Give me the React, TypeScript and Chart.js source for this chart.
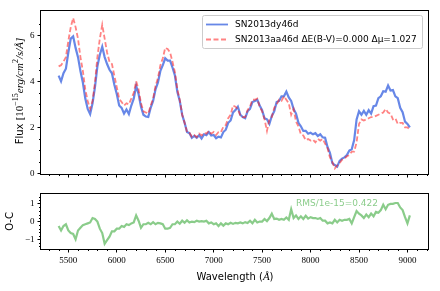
import React, { useEffect, useRef } from "react";
import { Chart, registerables } from "chart.js";
Chart.register(...registerables);

// ---- data ----
const wavelength = [
  5400, 5425, 5450, 5475, 5500, 5525, 5550, 5575,
  5600, 5625, 5650, 5675, 5700, 5725, 5750, 5775,
  5800, 5825, 5850, 5875, 5900, 5925, 5950, 5975,
  6000, 6025, 6050, 6075, 6100, 6125, 6150, 6175,
  6200, 6225, 6250, 6275, 6300, 6325, 6350, 6375,
  6400, 6425, 6450, 6475, 6500, 6525, 6550, 6575,
  6600, 6625, 6650, 6675, 6700, 6725, 6750, 6775,
  6800, 6825, 6850, 6875, 6900, 6925, 6950, 6975,
  7000, 7025, 7050, 7075, 7100, 7125, 7150, 7175,
  7200, 7225, 7250, 7275, 7300, 7325, 7350, 7375,
  7400, 7425, 7450, 7475, 7500, 7525, 7550, 7575,
  7600, 7625, 7650, 7675, 7700, 7725, 7750, 7775,
  7800, 7825, 7850, 7875, 7900, 7925, 7950, 7975,
  8000, 8025, 8050, 8075, 8100, 8125, 8150, 8175,
  8200, 8225, 8250, 8275, 8300, 8325, 8350, 8375,
  8400, 8425, 8450, 8475, 8500, 8525, 8550, 8575,
  8600, 8625, 8650, 8675, 8700, 8725, 8750, 8775,
  8800, 8825, 8850, 8875, 8900, 8925, 8950, 8975,
  9000, 9025,
];

const fluxDy = [
  4.25, 4.0, 4.35, 4.55, 5.25, 5.85, 5.95, 5.45,
  5.05, 4.45, 3.95, 3.25, 2.8, 2.58, 3.05, 3.75,
  4.65, 5.15, 5.5, 5.05, 4.75, 4.5, 4.35, 3.85,
  3.45, 2.95, 2.85, 2.6, 2.78, 2.58, 2.95, 3.25,
  3.8, 3.45, 2.9, 2.55, 2.47, 2.45, 2.85, 3.15,
  3.65, 3.95, 4.45, 4.7, 5.0, 4.9, 4.9, 4.6,
  4.25, 3.55, 3.15, 2.55, 2.2, 1.8, 1.75, 1.55,
  1.63, 1.55, 1.66, 1.52, 1.7, 1.66, 1.8, 1.65,
  1.67, 1.53, 1.6, 1.57, 1.8, 1.9, 2.2, 2.3,
  2.65, 2.75, 2.9, 2.55, 2.45, 2.4, 2.7, 2.8,
  3.1, 3.15, 3.2, 2.95, 2.75, 2.4, 2.35, 2.15,
  2.5, 2.7, 3.1, 3.15, 3.35, 3.35, 3.55, 3.3,
  3.15, 2.8, 2.6, 2.2, 2.05, 1.85, 1.85, 1.73,
  1.77, 1.7, 1.75, 1.63, 1.7, 1.57, 1.55, 1.15,
  0.9, 0.45, 0.37, 0.3, 0.55, 0.65, 0.7, 0.8,
  1.0, 1.05, 1.45, 2.35, 2.7, 2.55, 2.72, 2.55,
  2.75, 2.6, 2.92, 2.95, 3.27, 3.35, 3.57, 3.55,
  3.82, 3.6, 3.62, 3.35, 3.27, 2.85, 2.66, 2.25,
  2.15, 2.0,
];

const fluxAa = [
  4.65, 4.7, 4.85, 5.05, 5.75, 6.35, 6.75, 6.35,
  5.85, 5.05, 4.45, 3.65, 3.15, 2.8, 3.15, 3.95,
  5.05, 5.85, 6.45, 5.85, 5.25, 4.85, 4.75, 4.25,
  3.75, 3.25, 3.1, 2.95, 3.05, 3.0, 3.25, 3.5,
  4.0, 3.65, 3.05, 2.7, 2.65, 2.6, 2.95, 3.25,
  3.8, 4.15, 4.7, 5.0, 5.45, 5.4, 5.25, 4.85,
  4.4, 3.65, 3.2, 2.55, 2.2, 1.8, 1.77, 1.6,
  1.67, 1.58, 1.73, 1.65, 1.77, 1.73, 1.85, 1.73,
  1.8, 1.67, 1.8, 1.8, 2.03, 2.1, 2.4, 2.55,
  2.95, 2.9, 2.8, 2.5, 2.45, 2.45, 2.75, 2.9,
  3.2, 3.2, 3.25, 2.9, 2.7, 2.35, 1.85, 2.35,
  2.45, 2.85, 3.0, 3.2, 3.15, 3.35, 3.2, 3.05,
  2.55, 2.8, 2.25, 2.05, 1.7, 1.65, 1.45, 1.5,
  1.43, 1.47, 1.35, 1.5, 1.43, 1.5, 1.3, 1.1,
  0.7, 0.5, 0.22, 0.35, 0.45, 0.6, 0.65, 0.75,
  0.8, 0.95, 0.95, 1.35, 2.15, 2.35, 2.3, 2.35,
  2.4, 2.45, 2.45, 2.5, 2.55, 2.6, 2.65, 2.8,
  2.65, 2.6, 2.35, 2.4, 2.15, 2.2, 2.2, 2.0,
  2.0, 1.9,
];

const residual = [
  -0.25, -0.5, -0.25, -0.15, -0.5, -0.65, -0.7, -1.0,
  -0.5, -0.35, -0.2, -0.15, -0.1, -0.05, 0.2, 0.15,
  0.0, -0.4, -0.65, -1.25, -1.05, -0.85, -0.55, -0.55,
  -0.4, -0.4, -0.25, -0.3, -0.15, -0.2, -0.1, -0.05,
  0.35, 0.05, -0.35, -0.15, -0.15, -0.07, -0.15, -0.03,
  -0.15, -0.07, -0.1, -0.15, -0.4, -0.4, -0.35, -0.15,
  -0.15, 0.0, -0.12, 0.05, -0.07, 0.07, -0.05, 0.0,
  -0.03, 0.05, 0.0, 0.03, 0.0, 0.05, -0.1, -0.05,
  -0.15, -0.1, -0.25, -0.1, -0.23, -0.1, -0.15, -0.07,
  -0.13, -0.07, -0.1, -0.05, -0.1, -0.03, -0.08, 0.05,
  -0.1, 0.1, -0.05, 0.0, 0.0, 0.15, 0.03, 0.2,
  0.45, 0.15, 0.17, 0.1, 0.15, 0.1, 0.23, 0.1,
  0.7, 0.2, 0.35, 0.15, 0.3, 0.15, 0.33, 0.17,
  0.25, 0.2, 0.2, 0.15, 0.2, 0.05, 0.05, -0.1,
  -0.05, -0.1, 0.1, -0.05, 0.1, 0.05, 0.1, 0.1,
  0.15, -0.1, 0.25, 0.6, 0.45, 0.35, 0.2, 0.4,
  0.25, 0.45, 0.3, 0.55, 0.5, 0.65, 0.95, 0.7,
  0.95, 1.0, 1.0, 1.05, 1.05, 0.8, 0.65, 0.25,
  -0.1, 0.35,
];

const xTicks = [5500, 6000, 6500, 7000, 7500, 8000, 8500, 9000];
const fluxTicks = [0, 2, 4, 6];
const ocTicks = [-1, 0, 1];
const legendLabels = ["SN2013dy46d", "SN2013aa46d \u0394E(B-V)=0.000 \u0394\u03bc=1.027"];
const rmsLabel = "RMS/1e-15=0.422";

// ---- styles ----
const BLUE = "rgba(65,105,225,0.8)";
const RED = "rgba(255,30,30,0.55)";
const GREEN = "rgba(60,170,60,0.6)";
const TICK_FONT = { family: "'Liberation Serif', serif", size: 9 };
const SANS = "'DejaVu Sans', sans-serif";
const SERIF = "'Liberation Serif', serif";

type Run = { t: string; f: string; dy?: number };
function drawRuns(ctx: CanvasRenderingContext2D, runs: Run[], cx: number, cy: number, rot = 0, color = "#000", align = "center") {
  ctx.save();
  ctx.translate(cx, cy);
  ctx.rotate(rot);
  let total = 0;
  const widths = runs.map((r) => {
    ctx.font = r.f;
    const w = ctx.measureText(r.t).width;
    total += w;
    return w;
  });
  let x = align === "center" ? -total / 2 : 0;
  ctx.fillStyle = color;
  ctx.textBaseline = "middle";
  ctx.textAlign = "left";
  runs.forEach((r, i) => {
    ctx.font = r.f;
    ctx.fillText(r.t, x, r.dy || 0);
    x += widths[i];
  });
  ctx.restore();
}

function drawFrameAndMinor(chart: any, xMinor: number[], yMinor: number[]) {
  const { ctx, chartArea: a } = chart;
  const sx = chart.scales.x;
  const sy = chart.scales.y;
  ctx.save();
  ctx.strokeStyle = "#000";
  ctx.lineWidth = 1;
  ctx.beginPath();
  xMinor.forEach((v) => {
    const p = Math.round(sx.getPixelForValue(v)) + 0.5;
    if (p < a.left || p > a.right) return;
    ctx.moveTo(p, a.bottom);
    ctx.lineTo(p, a.bottom + 2);
  });
  yMinor.forEach((v) => {
    const p = Math.round(sy.getPixelForValue(v)) + 0.5;
    if (p < a.top || p > a.bottom) return;
    ctx.moveTo(a.left, p);
    ctx.lineTo(a.left - 2, p);
  });
  ctx.stroke();
  ctx.strokeRect(Math.round(a.left) - 0.5, Math.round(a.top) - 0.5, Math.round(a.right - a.left) + 1, Math.round(a.bottom - a.top) + 1);
  ctx.restore();
}

const xMinorTicks: number[] = [];
for (let v = 5300; v <= 9200; v += 100) if (v % 500 !== 0) xMinorTicks.push(v);
const fluxMinor: number[] = [];
for (let v = 0.5; v < 7; v += 0.5) if (v % 2 !== 0) fluxMinor.push(v);
const ocMinor: number[] = [];
for (let i = -7; i <= 7; i++) if (i % 5 !== 0) ocMinor.push(i * 0.2);

const X_MIN = 5218;
const X_MAX = 9212;

function xScale(showLabels: boolean, height: number) {
  return {
    type: "linear",
    min: X_MIN,
    max: X_MAX,
    afterBuildTicks: (s: any) => {
      s.ticks = xTicks.map((v) => ({ value: v }));
    },
    afterFit: (s: any) => {
      s.height = height;
    },
    border: { display: false },
    grid: { display: true, drawOnChartArea: false, drawTicks: true, tickLength: 3.5, color: "#000", lineWidth: 1 },
    ticks: {
      display: showLabels,
      autoSkip: false,
      maxRotation: 0,
      padding: 3,
      color: "#000",
      font: TICK_FONT,
      callback: (v: any) => String(v),
    },
  };
}

function yScale(min: number, max: number, ticks: number[]) {
  return {
    type: "linear",
    min,
    max,
    afterBuildTicks: (s: any) => {
      s.ticks = ticks.map((v) => ({ value: v }));
    },
    afterFit: (s: any) => {
      s.width = 41;
    },
    border: { display: false },
    grid: { display: true, drawOnChartArea: false, drawTicks: true, tickLength: 3.5, color: "#000", lineWidth: 1 },
    ticks: {
      padding: 3,
      color: "#000",
      font: TICK_FONT,
      callback: (v: any) => (v < 0 ? "\u2212" + String(-v) : String(v)),
    },
  };
}

export default function App() {
  const topRef = useRef<HTMLCanvasElement>(null);
  const botRef = useRef<HTMLCanvasElement>(null);

  useEffect(() => {
    document.body.style.margin = "0";
    const dyPts = wavelength.map((w, i) => ({ x: w, y: fluxDy[i] }));
    const aaPts = wavelength.map((w, i) => ({ x: w, y: fluxAa[i] }));
    const ocPts = wavelength.map((w, i) => ({ x: w, y: residual[i] }));

    const topDecor = {
      id: "topDecor",
      afterDraw(chart: any) {
        const ctx = chart.ctx as CanvasRenderingContext2D;
        drawFrameAndMinor(chart, xMinorTicks, fluxMinor);
        // legend
        ctx.save();
        ctx.fillStyle = "rgba(255,255,255,0.8)";
        ctx.strokeStyle = "#cccccc";
        ctx.lineWidth = 1;
        ctx.beginPath();
        (ctx as any).roundRect(202.5, 15.5, 220, 33, 2);
        ctx.fill();
        ctx.stroke();
        ctx.lineWidth = 1.8;
        ctx.strokeStyle = BLUE;
        ctx.beginPath();
        ctx.moveTo(206, 24.5);
        ctx.lineTo(228, 24.5);
        ctx.stroke();
        ctx.strokeStyle = RED;
        ctx.setLineDash([5, 2.5]);
        ctx.beginPath();
        ctx.moveTo(206, 39.5);
        ctx.lineTo(228, 39.5);
        ctx.stroke();
        ctx.restore();
        drawRuns(ctx, [{ t: legendLabels[0], f: `9px ${SANS}` }], 235, 24.5, 0, "#000", "left");
        drawRuns(ctx, [{ t: legendLabels[1], f: `9px ${SANS}` }], 235, 39.5, 0, "#000", "left");
        // y label
        drawRuns(
          ctx,
          [
            { t: "Flux ", f: `10px ${SANS}` },
            { t: "[10", f: `11px ${SERIF}` },
            { t: "\u221215", f: `8px ${SERIF}`, dy: -4 },
            { t: "erg/cm", f: `italic 11px ${SERIF}` },
            { t: "2", f: `8px ${SERIF}`, dy: -4 },
            { t: "/s/\u00c5]", f: `italic 11px ${SERIF}` },
          ],
          20,
          91,
          -Math.PI / 2
        );
      },
    };

    const botDecor = {
      id: "botDecor",
      afterDraw(chart: any) {
        const ctx = chart.ctx as CanvasRenderingContext2D;
        drawFrameAndMinor(chart, xMinorTicks, ocMinor);
        drawRuns(ctx, [{ t: "O-C", f: `10px ${SANS}` }], 10, 36.5, -Math.PI / 2);
        drawRuns(
          ctx,
          [
            { t: "Wavelength (", f: `10px ${SANS}` },
            { t: "\u00c5", f: `italic 11px ${SERIF}` },
            { t: ")", f: `10px ${SANS}` },
          ],
          235,
          92
        );
        drawRuns(ctx, [{ t: rmsLabel, f: `9px ${SANS}` }], 296, 18.5, 0, GREEN, "left");
      },
    };

    const top = new Chart(topRef.current as HTMLCanvasElement, {
      type: "line",
      data: {
        datasets: [
          { label: legendLabels[0], data: dyPts, borderColor: BLUE, borderWidth: 2.2, pointRadius: 0, order: 2 },
          { label: legendLabels[1], data: aaPts, borderColor: RED, borderWidth: 1.8, borderDash: [5, 2.5], pointRadius: 0, order: 1 },
        ],
      },
      options: {
        animation: false,
        responsive: false,
        devicePixelRatio: 1,
        layout: { padding: { top: 11, right: 12, left: 0, bottom: 0 } },
        plugins: { legend: { display: false }, tooltip: { enabled: false } },
        elements: { line: { tension: 0 } },
        scales: { x: xScale(false, 11), y: yScale(-0.02, 7.05, fluxTicks) } as any,
      },
      plugins: [topDecor],
    } as any);

    const bot = new Chart(botRef.current as HTMLCanvasElement, {
      type: "line",
      data: {
        datasets: [{ label: "O-C", data: ocPts, borderColor: GREEN, borderWidth: 2.2, pointRadius: 0 }],
      },
      options: {
        animation: false,
        responsive: false,
        devicePixelRatio: 1,
        layout: { padding: { top: 9, right: 12, left: 0, bottom: 0 } },
        plugins: { legend: { display: false }, tooltip: { enabled: false } },
        elements: { line: { tension: 0 } },
        scales: { x: xScale(true, 42), y: yScale(-1.55, 1.56, ocTicks) } as any,
      },
      plugins: [botDecor],
    } as any);

    return () => {
      top.destroy();
      bot.destroy();
    };
  }, []);

  return (
    <div style={{ position: "fixed", left: 0, top: 0, width: 440, height: 291, background: "#fff" }}>
      <canvas ref={topRef} width={440} height={185} style={{ position: "absolute", left: 0, top: 0, width: 440, height: 185 }} />
      <canvas ref={botRef} width={440} height={106} style={{ position: "absolute", left: 0, top: 185, width: 440, height: 106 }} />
    </div>
  );
}
